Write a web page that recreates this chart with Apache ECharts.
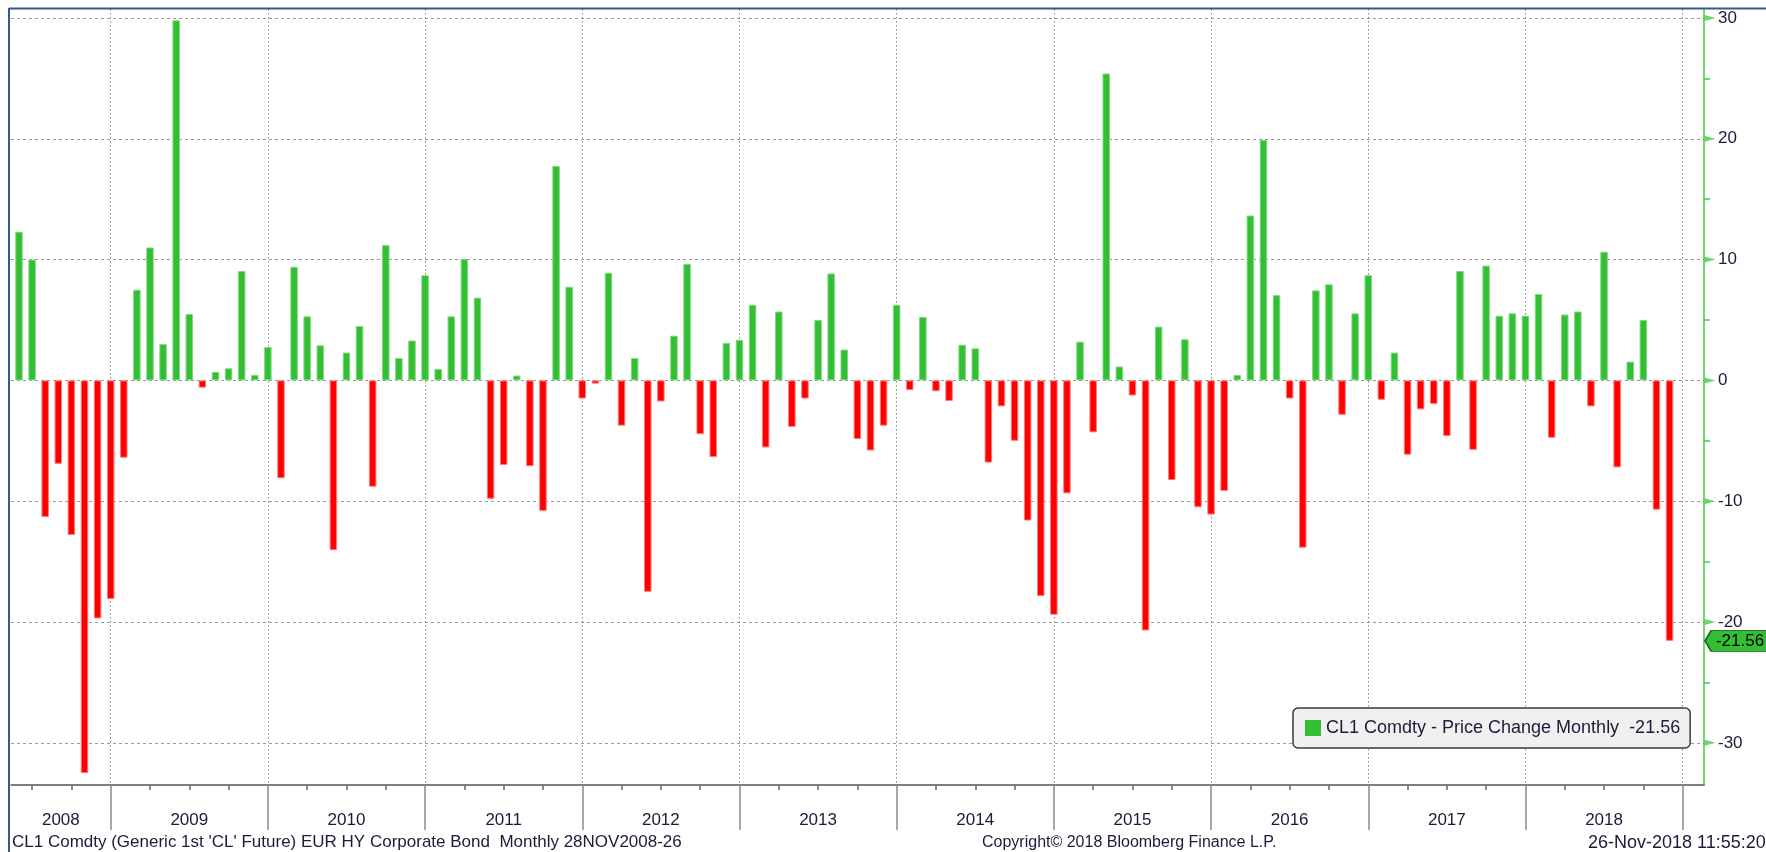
<!DOCTYPE html>
<html>
<head>
<meta charset="utf-8">
<script src="https://cdn.jsdelivr.net/npm/echarts@6/dist/echarts.min.js"></script>
<style>
html,body{margin:0;padding:0;background:#fff;}
#chart{width:1766px;height:852px;}
</style>
</head>
<body>
<div id="chart"></div>
<script>
// monthly price change of CL1, one array per year (May 2008 .. Nov 2018)
const chg2008 = [12.3, 10.0, -11.3, -6.9, -12.8, -32.5, -19.7, -18.1];
const chg2009 = [-6.4, 7.5, 11.0, 3.0, 29.8, 5.5, -0.6, 0.7, 1.0, 9.05, 0.45, 2.75];
const chg2010 = [-8.1, 9.4, 5.3, 2.9, -14.05, 2.3, 4.5, -8.8, 11.2, 1.85, 3.3, 8.7];
const chg2011 = [0.95, 5.3, 10.05, 6.85, -9.8, -7.0, 0.4, -7.1, -10.8, 17.75, 7.75, -1.5];
const chg2012 = [-0.27, 8.9, -3.75, 1.85, -17.5, -1.75, 3.7, 9.65, -4.45, -6.35, 3.1, 3.35];
const chg2013 = [6.25, -5.55, 5.7, -3.85, -1.5, 5.0, 8.85, 2.55, -4.85, -5.8, -3.75, 6.25];
const chg2014 = [-0.8, 5.25, -0.9, -1.7, 2.95, 2.65, -6.8, -2.15, -5.0, -11.6, -17.85, -19.4];
const chg2015 = [-9.35, 3.2, -4.3, 25.4, 1.15, -1.25, -20.7, 4.45, -8.25, 3.4, -10.5, -11.1];
const chg2016 = [-9.15, 0.45, 13.65, 19.9, 7.05, -1.5, -13.85, 7.45, 7.95, -2.85, 5.55, 8.7];
const chg2017 = [-1.6, 2.3, -6.15, -2.4, -1.95, -4.6, 9.05, -5.75, 9.5, 5.35, 5.55, 5.35];
const chg2018 = [7.15, -4.75, 5.45, 5.7, -2.15, 10.65, -7.2, 1.55, 5.0, -10.7, -21.56];

const years = ['2008','2009','2010','2011','2012','2013','2014','2015','2016','2017','2018'];
const yTicks = [-30, -20, -10, 0, 10, 20, 30];
const yMinorTicks = [-25, -15, -5, 5, 15, 25];
const lastValue = -21.56;
const seriesName = 'CL1 Comdty - Price Change Monthly  -21.56';

// x is counted in months from 1 Jan 2008, a bar sits at its month end
const firstMonth = 5;
const xMin = 4.39, xMax = 133.63;
const yMin = -33.49, yMax = 30.74;

const allChg = [].concat(chg2008, chg2009, chg2010, chg2011, chg2012, chg2013,
    chg2014, chg2015, chg2016, chg2017, chg2018);

const GREEN = '#33bf33', RED = '#ff0000';
const TXT = '#1b1b3a';
const FONT = 'Liberation Sans';

const barData = allChg.map((v, i) => ({
    value: [firstMonth + i, v],
    itemStyle: v >= 0
        ? { color: GREEN, borderColor: '#7ed87e' }
        : { color: RED, borderColor: '#ff7a7a' }
}));

const yearBounds = years.map((y, i) => (i + 1) * 12);
const quarterTicks = [];
years.forEach((y, i) => { [3, 6, 9].forEach(q => { if (i * 12 + q > xMin) quarterTicks.push(i * 12 + q) }) });
const labelPos = years.map((y, i) => i === 0 ? (xMin + 12) / 2 : i * 12 + 6);

const chart = echarts.init(document.getElementById('chart'));
chart.setOption({
    animation: false,
    backgroundColor: '#fff',
    textStyle: { fontFamily: FONT },
    grid: { left: 11, right: 62, top: 9, bottom: 67, containLabel: false },
    legend: {
        data: [{ name: seriesName, itemStyle: { color: GREEN, borderWidth: 0 } }],
        left: 1293, top: 708,
        icon: 'rect', itemWidth: 16, itemHeight: 16, itemGap: 6,
        backgroundColor: '#f0f0f0', borderColor: '#3a3a3a', borderWidth: 1.5, borderRadius: 5,
        padding: [11, 10, 11, 12],
        textStyle: { fontFamily: FONT, fontSize: 18, color: TXT }
    },
    xAxis: [{
        type: 'value', min: xMin, max: xMax, position: 'bottom',
        axisLine: { show: true, onZero: false, lineStyle: { color: '#555', width: 1.5 } },
        axisTick: { show: true, customValues: yearBounds, length: 45, lineStyle: { color: '#8a8a8a', width: 1.5 } },
        axisLabel: {
            customValues: labelPos, margin: 27,
            fontFamily: FONT, fontSize: 17, color: TXT,
            formatter: v => years[Math.floor(v / 12)]
        },
        splitLine: { show: true, lineStyle: { color: '#888', type: [1.5, 2.5], width: 1 } }
    }, {
        type: 'value', min: xMin, max: xMax, position: 'bottom',
        axisLine: { show: false, onZero: false },
        axisTick: { show: true, customValues: quarterTicks, length: 5, lineStyle: { color: '#666', width: 1.5 } },
        axisLabel: { show: false },
        splitLine: { show: false }
    }],
    yAxis: [{
        type: 'value', min: yMin, max: yMax, position: 'right',
        axisLine: { show: true, onZero: false, lineStyle: { color: '#44cc44', width: 1.5 } },
        axisTick: { show: false, customValues: yTicks },
        axisLabel: { customValues: yTicks, margin: 14, fontFamily: FONT, fontSize: 17, color: TXT },
        splitLine: { show: true, lineStyle: { color: '#999', type: [3, 3], width: 1 } }
    }, {
        type: 'value', min: yMin, max: yMax, position: 'right',
        axisLine: { show: false, onZero: false },
        axisTick: { show: true, customValues: yMinorTicks, length: 6, lineStyle: { color: '#44cc44', width: 1.5 } },
        axisLabel: { show: false },
        splitLine: { show: false }
    }],
    series: [{
        name: seriesName,
        type: 'bar',
        xAxisIndex: 0, yAxisIndex: 0,
        barWidth: 7.5,
        data: barData,
        itemStyle: { borderWidth: 1 },
        markPoint: {
            symbol: 'path://M0,10L6,0L62,0L62,20L6,20Z',
            symbolSize: [64, 21],
            symbolKeepAspect: false,
            symbolOffset: [33, 0],
            itemStyle: { color: GREEN, borderColor: '#1e5a1e', borderWidth: 1 },
            label: { show: true, position: 'inside', color: '#000', fontFamily: FONT, fontSize: 17, offset: [3, 0], formatter: () => String(lastValue) },
            data: [{ coord: [xMax, lastValue], value: lastValue }]
        }
    }, {
        name: 'ticks',
        type: 'scatter',
        clip: false,
        symbol: 'path://M0,0L12,3L0,6Z',
        symbolSize: [11, 6],
        symbolOffset: [6, 0],
        itemStyle: { color: '#44cc44' },
        data: yTicks.map(v => [xMax, v]),
        z: 5
    }],
    graphic: [
        { type: 'line', shape: { x1: 9, y1: 8.5, x2: 1766, y2: 8.5 }, style: { stroke: '#2e5d8c', lineWidth: 2 }, z: 100 },
        { type: 'line', shape: { x1: 9, y1: 8, x2: 9, y2: 852 }, style: { stroke: '#2e5d8c', lineWidth: 2 }, z: 100 },
        { type: 'text', left: 12, top: 834, style: { text: "CL1 Comdty (Generic 1st 'CL' Future) EUR HY Corporate Bond  Monthly 28NOV2008-26", font: '17px "Liberation Sans"', fill: TXT } },
        { type: 'text', left: 982, top: 835, style: { text: 'Copyright\u00a9 2018 Bloomberg Finance L.P.', font: '16px "Liberation Sans"', fill: TXT } },
        { type: 'text', left: 1588, top: 834, style: { text: '26-Nov-2018 11:55:20', font: '18px "Liberation Sans"', fill: TXT } }
    ]
});
</script>
</body>
</html>
